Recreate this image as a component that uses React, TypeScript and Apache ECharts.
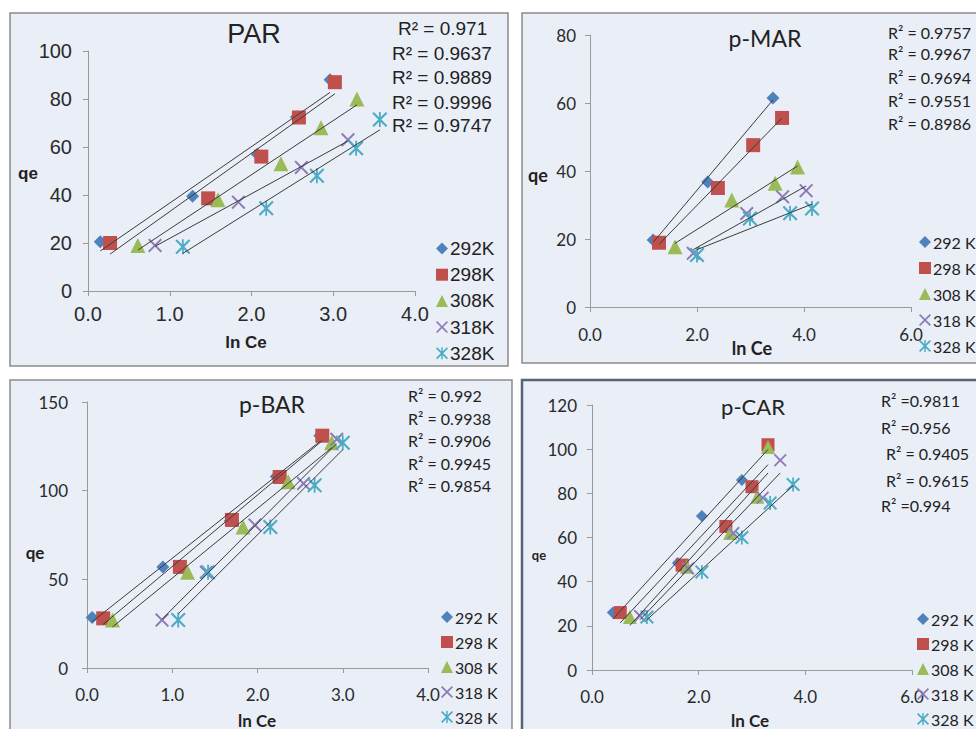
import React, { useEffect, useRef } from "react";
import * as echarts from "echarts";

// ---------- DATA ----------
const NAMES_PAR = ["292K", "298K", "308K", "318K", "328K"];
const NAMES_P = ["292 K", "298 K", "308 K", "318 K", "328 K"];

// PAR
const PAR_X = [
  [0.15, 1.28, 2.07, 2.55, 2.96],
  [0.27, 1.47, 2.12, 2.58, 3.02],
  [0.61, 1.59, 2.36, 2.85, 3.29],
  [0.82, 1.84, 2.61, 3.18],
  [1.16, 2.18, 2.8, 3.28, 3.57],
];
const PAR_Y = [
  [20.5, 39.5, 57, 72.5, 88],
  [20, 38.6, 56, 72.3, 87],
  [19, 38, 53, 68, 80],
  [19, 37, 51.5, 63],
  [18.4, 34.5, 48, 59.5, 71.5],
];
const PAR_R2 = ["R² = 0.971", "R² = 0.9637", "R² = 0.9889", "R² = 0.9996", "R² = 0.9747"];

// p-MAR
const MAR_X = [
  [1.18, 2.2, 3.42],
  [1.29, 2.39, 3.05, 3.59],
  [1.59, 2.65, 3.46, 3.88],
  [1.93, 2.93, 3.6, 4.04],
  [2.0, 2.99, 3.74, 4.15],
];
const MAR_Y = [
  [19.7, 36.8, 61.5],
  [18.9, 35, 47.6, 55.6],
  [17.7, 31.5, 36.4, 41.2],
  [15.8, 27.5, 32.4, 34.2],
  [15.3, 26, 27.6, 29],
];
const MAR_R2 = ["R² = 0.9757", "R² = 0.9967", "R² = 0.9694", "R² = 0.9551", "R² = 0.8986"];

// p-BAR
const BAR_X = [
  [0.06, 0.89, 1.68, 2.22, 2.73],
  [0.19, 1.09, 1.7, 2.26, 2.76],
  [0.3, 1.18, 1.83, 2.36, 2.87],
  [0.88, 1.4, 1.97, 2.54, 2.93],
  [1.07, 1.42, 2.15, 2.67, 3.0],
];
const BAR_Y = [
  [28.5, 57, 83, 108, 131],
  [28, 57, 83.5, 107.7, 131],
  [27, 54, 79.5, 105, 127],
  [27, 54, 80.6, 104, 129],
  [27, 54, 79.5, 103, 127],
];
const BAR_R2 = ["R² = 0.992", "R² = 0.9938", "R² = 0.9906", "R² = 0.9945", "R² = 0.9854"];

// p-CAR
const CAR_X = [
  [0.39, 1.61, 2.06, 2.81, 3.3],
  [0.53, 1.69, 2.51, 3.0, 3.3],
  [0.71, 1.78, 2.59, 3.1, 3.3],
  [0.9, 1.8, 2.65, 3.2, 3.53],
  [1.03, 2.06, 2.81, 3.34, 3.77],
];
const CAR_Y = [
  [26, 48.5, 69.7, 86, 102],
  [26, 47.5, 65, 83, 102],
  [24, 46.7, 62, 78.5, 101],
  [24.5, 46, 62, 78, 95],
  [24, 44.4, 60, 75.6, 84],
];
const CAR_R2 = ["R² =0.9811", "R² =0.956", "R² = 0.9405", "R² = 0.9615", "R² =0.994"];

const TITLES = ["PAR", "p-MAR", "p-BAR", "p-CAR"];
const X_AXIS_NAME = "ln Ce";
const Y_AXIS_NAME = "qe";

// ---------- STYLE ----------
const COLORS = ["#4F81BD", "#C0504D", "#9BBB59", "#8D7BB5", "#4BACC6"];
const X_PATH =
  "path://M0,1 L1,0 L5,4 L9,0 L10,1 L6,5 L10,9 L9,10 L5,6 L1,10 L0,9 L4,5 Z";
const STAR_PATH =
  "path://M0,1 L1,0 L5,4 L9,0 L10,1 L6,5 L10,9 L9,10 L5,6 L1,10 L0,9 L4,5 Z M4.4,0 L5.6,0 L5.6,10 L4.4,10 Z";
const SYMBOLS = ["diamond", "rect", "triangle", X_PATH, STAR_PATH];
const FONT_A = "'Liberation Sans', Arial, sans-serif";
const FONT_C = "Lato, 'Noto Sans', sans-serif";
const PANEL_BG = "#e9eef7";

function trend(xs: number[], ys: number[]) {
  const n = xs.length;
  const mx = xs.reduce((a, b) => a + b, 0) / n;
  const my = ys.reduce((a, b) => a + b, 0) / n;
  let sxy = 0;
  let sxx = 0;
  for (let i = 0; i < n; i++) {
    sxy += (xs[i] - mx) * (ys[i] - my);
    sxx += (xs[i] - mx) * (xs[i] - mx);
  }
  const b = sxy / sxx;
  const a = my - b * mx;
  const x0 = Math.min(...xs);
  const x1 = Math.max(...xs);
  return [
    [x0, a + b * x0],
    [x1, a + b * x1],
  ];
}

type Panel = {
  rect: { x: number; y: number; w: number; h: number; stroke: string; lw: number };
  grid: { left: number; top: number; width: number; height: number };
  xMax: number;
  xInt: number;
  yMax: number;
  yInt: number;
  names: string[];
  xs: number[][];
  ys: number[][];
  font: string;
  tickFs: number;
  xMargin: number;
  yMargin: number;
  sizes: number[];
  legend: { left: number; top: number; spacing: number; fs: number };
  title: { x: number; y: number; fs: number };
  r2: { labels: string[]; xs: number[]; ys: number[]; fs: number };
  qe: { x: number; y: number; fs: number };
  ln: { x: number; y: number; fs: number };
};

const PANELS: Panel[] = [
  {
    rect: { x: 10, y: 13, w: 498, h: 353, stroke: "#8c8c8c", lw: 1.5 },
    grid: { left: 88, top: 51, width: 327, height: 240 },
    xMax: 4, xInt: 1, yMax: 100, yInt: 20,
    names: NAMES_PAR, xs: PAR_X, ys: PAR_Y,
    font: FONT_A, tickFs: 20, xMargin: 13, yMargin: 16,
    sizes: [13, 14, 15, 14, 15],
    legend: { left: 436, top: 238, spacing: 26.2, fs: 19 },
    title: { x: 254, y: 34, fs: 27 },
    r2: { labels: PAR_R2, xs: [398, 392, 392, 392, 392], ys: [28, 53, 77, 102, 125], fs: 19 },
    qe: { x: 28, y: 173, fs: 17 },
    ln: { x: 246, y: 342, fs: 17 },
  },
  {
    rect: { x: 522, y: 13, w: 480, h: 350, stroke: "#8c8c8c", lw: 1.5 },
    grid: { left: 590, top: 35, width: 321, height: 272 },
    xMax: 6, xInt: 2, yMax: 80, yInt: 20,
    names: NAMES_P, xs: MAR_X, ys: MAR_Y,
    font: FONT_C, tickFs: 17, xMargin: 19, yMargin: 14,
    sizes: [13, 14, 15, 14, 15],
    legend: { left: 919, top: 233, spacing: 26, fs: 16 },
    title: { x: 765, y: 38, fs: 23 },
    r2: { labels: MAR_R2, xs: [888, 888, 888, 888, 888], ys: [32, 53, 77, 100, 123], fs: 16 },
    qe: { x: 538, y: 175, fs: 18 },
    ln: { x: 752, y: 348, fs: 18 },
  },
  {
    rect: { x: 10, y: 380, w: 502, h: 370, stroke: "#8c8c8c", lw: 1.5 },
    grid: { left: 87, top: 402, width: 341, height: 266 },
    xMax: 4, xInt: 1, yMax: 150, yInt: 50,
    names: NAMES_P, xs: BAR_X, ys: BAR_Y,
    font: FONT_C, tickFs: 17, xMargin: 18, yMargin: 19,
    sizes: [13, 14, 15, 14, 15],
    legend: { left: 441, top: 608, spacing: 25, fs: 16 },
    title: { x: 272, y: 404, fs: 23 },
    r2: { labels: BAR_R2, xs: [408, 408, 408, 408, 408], ys: [395, 418, 440, 463, 485], fs: 16 },
    qe: { x: 35, y: 552, fs: 17 },
    ln: { x: 257, y: 720, fs: 17 },
  },
  {
    rect: { x: 522, y: 380, w: 480, h: 370, stroke: "#56647a", lw: 2.5 },
    grid: { left: 592, top: 405, width: 320, height: 265 },
    xMax: 6, xInt: 2, yMax: 120, yInt: 20,
    names: NAMES_P, xs: CAR_X, ys: CAR_Y,
    font: FONT_C, tickFs: 17, xMargin: 18, yMargin: 15,
    sizes: [12, 13, 14, 13, 14],
    legend: { left: 917, top: 610, spacing: 25, fs: 16 },
    title: { x: 753, y: 406, fs: 22 },
    r2: { labels: CAR_R2, xs: [881, 881, 886, 886, 881], ys: [400, 427, 453, 480, 505], fs: 16 },
    qe: { x: 539, y: 555, fs: 13 },
    ln: { x: 750, y: 720, fs: 17 },
  },
];

function txt(text: string, x: number, y: number, fs: number, font: string, bold = false, align = "center") {
  return {
    type: "text",
    x,
    y,
    z: 50,
    style: {
      text,
      fontSize: fs,
      fontFamily: font,
      fontWeight: bold ? "bold" : "normal",
      fill: "#222",
      textAlign: align,
      align,
      textVerticalAlign: "middle",
      verticalAlign: "middle",
    },
  };
}

function buildOption() {
  const grid: any[] = [];
  const xAxis: any[] = [];
  const yAxis: any[] = [];
  const series: any[] = [];
  const legend: any[] = [];
  const graphic: any[] = [];

  PANELS.forEach((p, pi) => {
    graphic.push({
      type: "rect",
      z: -100,
      shape: { x: p.rect.x, y: p.rect.y, width: p.rect.w, height: p.rect.h },
      style: { fill: PANEL_BG, stroke: p.rect.stroke, lineWidth: p.rect.lw },
    });
    graphic.push(txt(TITLES[pi], p.title.x, p.title.y, p.title.fs, p.font));
    p.r2.labels.forEach((l, i) => {
      graphic.push(txt(l, p.r2.xs[i], p.r2.ys[i], p.r2.fs, p.font, false, "left"));
    });
    graphic.push(txt(Y_AXIS_NAME, p.qe.x, p.qe.y, p.qe.fs, p.font, true));
    graphic.push(txt(X_AXIS_NAME, p.ln.x, p.ln.y, p.ln.fs, p.font, true));

    grid.push({ ...p.grid, containLabel: false });
    const axisCommon = {
      axisLine: { show: true, onZero: false, lineStyle: { color: "#9a9a9a", width: 1 } },
      axisTick: { show: true, inside: false, length: 5, lineStyle: { color: "#9a9a9a" } },
      splitLine: { show: false },
    };
    xAxis.push({
      type: "value",
      gridIndex: pi,
      min: 0,
      max: p.xMax,
      interval: p.xInt,
      ...axisCommon,
      axisLabel: {
        fontSize: p.tickFs,
        fontFamily: p.font,
        color: "#2a2a2a",
        margin: p.xMargin,
        formatter: (v: number) => v.toFixed(1),
      },
    });
    yAxis.push({
      type: "value",
      gridIndex: pi,
      min: 0,
      max: p.yMax,
      interval: p.yInt,
      ...axisCommon,
      axisLabel: {
        fontSize: p.tickFs,
        fontFamily: p.font,
        color: "#2a2a2a",
        margin: p.yMargin,
      },
    });

    p.names.forEach((name, si) => {
      const xs = p.xs[si];
      const ys = p.ys[si];
      series.push({
        type: "scatter",
        name,
        xAxisIndex: pi,
        yAxisIndex: pi,
        symbol: SYMBOLS[si],
        symbolSize: p.sizes[si],
        itemStyle: { color: COLORS[si], opacity: 1 },
        z: 2,
        silent: true,
        data: xs.map((x, i) => [x, ys[i]]),
      });
    });
    p.names.forEach((name, si) => {
      series.push({
        type: "line",
        name: "trend-" + pi + "-" + si,
        xAxisIndex: pi,
        yAxisIndex: pi,
        showSymbol: false,
        symbol: "none",
        lineStyle: { color: "#3b3b3b", width: 1 },
        z: 3,
        silent: true,
        data: trend(p.xs[si], p.ys[si]),
      });
    });

    const lh = p.legend.fs + 2;
    legend.push({
      orient: "vertical",
      left: p.legend.left,
      top: p.legend.top,
      itemWidth: 12,
      itemHeight: 12,
      itemGap: p.legend.spacing - lh,
      padding: 0,
      selectedMode: false,
      data: p.names,
      textStyle: {
        fontSize: p.legend.fs,
        fontFamily: p.font,
        color: "#222",
        lineHeight: lh,
        padding: [0, 0, 0, -3],
      },
    });
  });

  return {
    animation: false,
    backgroundColor: "#ffffff",
    grid,
    xAxis,
    yAxis,
    series,
    legend,
    graphic,
  };
}

export default function App() {
  const ref = useRef<HTMLDivElement>(null);
  useEffect(() => {
    if (!ref.current) return;
    const chart = echarts.init(ref.current, null, { renderer: "svg", width: 976, height: 729 });
    chart.setOption(buildOption() as any);
    return () => chart.dispose();
  }, []);
  return (
    <div
      ref={ref}
      style={{
        position: "fixed",
        left: 0,
        top: 0,
        width: 976,
        height: 729,
        overflow: "hidden",
        background: "#fff",
      }}
    />
  );
}
